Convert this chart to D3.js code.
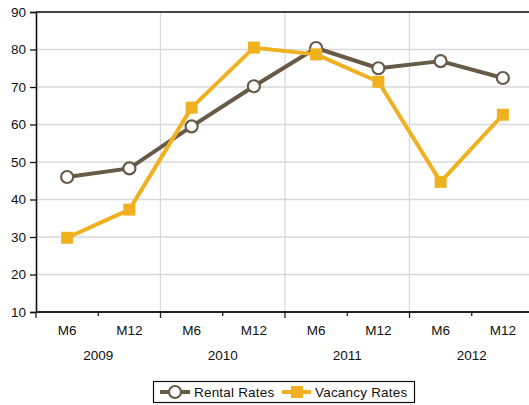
<!DOCTYPE html>
<html><head><meta charset="utf-8">
<script src="https://cdn.jsdelivr.net/npm/d3@7"></script>
<style>body{margin:0;background:#fff}svg{display:block;font-family:"Liberation Sans",Arial,sans-serif}</style>
</head><body><svg id="c" width="529" height="405"></svg>
<script>
const years = ["2009","2010","2011","2012"];
const months = ["M6","M12"];
const categories = ["2009 M6","2009 M12","2010 M6","2010 M12","2011 M6","2011 M12","2012 M6","2012 M12"];
const rentalRates = [46, 48.3, 59.5, 70.2, 80.4, 75.0, 76.9, 72.4];
const vacancyRates = [29.8, 37.3, 64.5, 80.5, 78.7, 71.4, 44.7, 62.6];
const yTicks = [10,20,30,40,50,60,70,80,90];
const seriesNames = ["Rental Rates","Vacancy Rates"];

const svg = d3.select("#c");
const L = 36, T = 12, B = 312, R = 534;
const FS = 13.5;
const x = d3.scaleBand().domain(categories).range([L, R]);
const xYear = d3.scaleBand().domain(years).range([L, R]);
const y = d3.scaleLinear().domain([10, 90]).range([B, T]);
const cRent = "#675a47", cVac = "#efb11f";

// grid
svg.append("g").selectAll("line").data(yTicks.slice(1)).join("line")
  .attr("x1", L).attr("x2", R).attr("y1", d => y(d)).attr("y2", d => y(d))
  .attr("stroke", "#d9d9d9").attr("stroke-width", 1.3);
svg.append("g").selectAll("line").data(years.slice(1)).join("line")
  .attr("x1", d => xYear(d)).attr("x2", d => xYear(d)).attr("y1", T).attr("y2", B)
  .attr("stroke", "#d9d9d9").attr("stroke-width", 1.3);
// top border
svg.append("line").attr("x1", L).attr("x2", R).attr("y1", T).attr("y2", T).attr("stroke", "#111").attr("stroke-width", 1.3);

// y axis
const ya = svg.append("g").attr("transform", `translate(${L},0)`)
  .call(d3.axisLeft(y).tickValues(yTicks).tickSize(6).tickPadding(4));
ya.select(".domain").attr("stroke", "#111").attr("stroke-width", 1.6);
ya.selectAll(".tick line").attr("stroke", "#111").attr("stroke-width", 1.3);
ya.selectAll("text").attr("font-size", FS).attr("fill", "#111").attr("font-family", "Liberation Sans, Arial, sans-serif");

// x axis
svg.append("line").attr("x1", L).attr("x2", R).attr("y1", B).attr("y2", B).attr("stroke", "#222").attr("stroke-width", 2.2);
const minorTicks = categories.filter((d,i) => i % 2 === 1);
svg.append("g").selectAll("line").data(minorTicks).join("line")
  .attr("x1", d => x(d)).attr("x2", d => x(d)).attr("y1", B).attr("y2", B + 4)
  .attr("stroke", "#222").attr("stroke-width", 1.3);
svg.append("g").selectAll("line").data(years).join("line")
  .attr("x1", d => xYear(d)).attr("x2", d => xYear(d)).attr("y1", B).attr("y2", B + 6)
  .attr("stroke", "#222").attr("stroke-width", 1.3);
svg.append("g").selectAll("text").data(categories).join("text")
  .attr("x", d => x(d) + x.bandwidth()/2).attr("y", B + 23)
  .attr("text-anchor", "middle").attr("font-size", FS).attr("fill", "#111")
  .text((d,i) => months[i % 2]);
svg.append("g").selectAll("text").data(years).join("text")
  .attr("x", d => xYear(d) + xYear.bandwidth()/2).attr("y", B + 48)
  .attr("text-anchor", "middle").attr("font-size", FS).attr("fill", "#111")
  .text(d => d);

// lines
const cx = d => x(d) + x.bandwidth()/2;
const line = d3.line().x(d => cx(d[0])).y(d => y(d[1]));
const rData = categories.map((c,i) => [c, rentalRates[i]]);
const vData = categories.map((c,i) => [c, vacancyRates[i]]);

svg.append("path").datum(rData).attr("d", line).attr("fill", "none").attr("stroke", cRent).attr("stroke-width", 4).attr("stroke-linejoin", "round");
svg.append("path").datum(vData).attr("d", line).attr("fill", "none").attr("stroke", cVac).attr("stroke-width", 4).attr("stroke-linejoin", "round");

svg.append("g").selectAll("circle").data(rData).join("circle")
  .attr("cx", d => cx(d[0])).attr("cy", d => y(d[1])).attr("r", 6)
  .attr("fill", "#fff").attr("stroke", cRent).attr("stroke-width", 2.2);
svg.append("g").selectAll("rect").data(vData).join("rect")
  .attr("x", d => cx(d[0]) - 6).attr("y", d => y(d[1]) - 6).attr("width", 12).attr("height", 12)
  .attr("fill", cVac);

// legend
const lg = svg.append("g");
lg.append("rect").attr("x", 153.5).attr("y", 381.5).attr("width", 261).attr("height", 21)
  .attr("fill", "#fff").attr("stroke", "#111").attr("stroke-width", 1.2);
lg.append("line").attr("x1", 160).attr("x2", 190).attr("y1", 392).attr("y2", 392).attr("stroke", cRent).attr("stroke-width", 4);
lg.append("circle").attr("cx", 175).attr("cy", 392).attr("r", 6).attr("fill", "#fff").attr("stroke", cRent).attr("stroke-width", 2.2);
lg.append("text").attr("x", 194).attr("y", 397).attr("font-size", FS).attr("letter-spacing", 0.2).attr("fill", "#111").text(seriesNames[0]);
lg.append("line").attr("x1", 282).attr("x2", 311).attr("y1", 392).attr("y2", 392).attr("stroke", cVac).attr("stroke-width", 4);
lg.append("rect").attr("x", 291).attr("y", 386).attr("width", 12).attr("height", 12).attr("fill", cVac);
lg.append("text").attr("x", 315).attr("y", 397).attr("font-size", FS).attr("letter-spacing", 0.2).attr("fill", "#111").text(seriesNames[1]);
</script></body></html>
